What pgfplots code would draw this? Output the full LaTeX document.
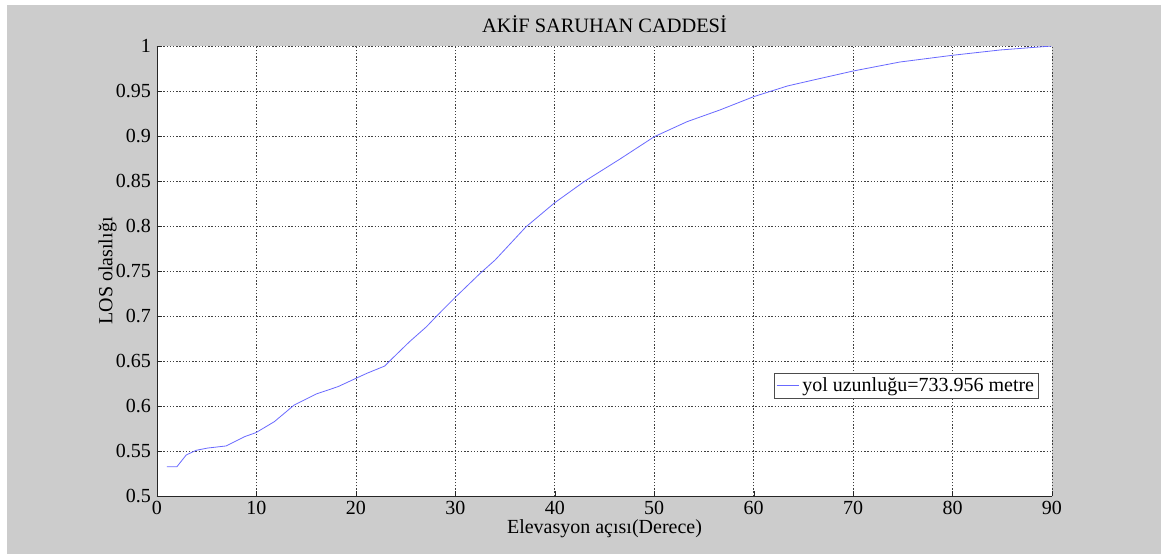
\documentclass[border=0pt]{standalone}
\usepackage{fontspec}
\setmainfont{Liberation Serif}
\usepackage{pgfplots}
\pgfplotsset{compat=1.18}
\definecolor{figbg}{RGB}{204,204,204}
\definecolor{curve}{RGB}{105,105,255}
\begin{document}
\begin{tikzpicture}
\path[use as bounding box] (-117.75pt,-43.5pt) rectangle (753pt,372pt);
\fill[white] (-117.75pt,-43.5pt) rectangle (753pt,372pt);
\fill[figbg] (-112.5pt,-43.5pt) rectangle (753pt,368.25pt);
\begin{axis}[
  at={(0,0)}, anchor=south west,
  width=671.25pt, height=337.5pt, scale only axis,
  xmin=0, xmax=90, ymin=0.5, ymax=1,
  xtick={0,10,20,30,40,50,60,70,80,90},
  ytick={0.5,0.55,0.6,0.65,0.7,0.75,0.8,0.85,0.9,0.95,1},
  yticklabels={0.5,0.55,0.6,0.65,0.7,0.75,0.8,0.85,0.9,0.95,1},
  axis background/.style={fill=white},
  axis lines*=left,
  axis line style={-, black!85},
  tick align=inside,
  major tick length=4pt,
  tick style={black!85},
  grid=major,
  major grid style={black!75, line width=0.5pt, dash pattern=on 1pt off 1.4pt},
  font=\fontsize{15}{17}\selectfont,
  tick label style={font=\fontsize{15}{17}\selectfont},
  /pgf/number format/assume math mode=true,
  xticklabel style={yshift=-0.5pt},
  yticklabel style={xshift=-1pt},
  title={AK\.IF SARUHAN CADDES\.I},
  title style={at={(axis description cs:0.5,1)}, anchor=center, yshift=10.5pt, font=\fontsize{15.3}{17}\selectfont},
  xlabel={Elevasyon açısı(Derece)},
  xlabel style={at={(axis description cs:0.5,0)}, anchor=center, yshift=-24.5pt, font=\fontsize{15}{17}\selectfont},
  ylabel={LOS olasılığı},
  ylabel style={at={([xshift=-37pt]axis description cs:0,0.5)}, rotate=0, anchor=center, font=\fontsize{15}{17}\selectfont},
  legend style={at={(axis description cs:0.9855,0.2733)}, anchor=north east, draw=black!70, fill=white,
    font=\fontsize{15}{17}\selectfont, inner sep=1.5pt, row sep=0pt},
  legend cell align=left,
  legend image code/.code={\draw[#1] (0pt,0pt) -- (17pt,0pt);},
]
\addplot[color=curve, line width=0.6pt] coordinates {
(1.0,0.5325) (2.0,0.5325) (2.94,0.5456) (3.95,0.5508) (5.1,0.5533) (6.95,0.5556)
(8.8,0.5659) (9.95,0.5704) (11.8,0.5826) (13.8,0.6011) (16.0,0.6133) (18.2,0.6215)
(20.0,0.6307) (21.1,0.6363) (22.9,0.6444) (23.4,0.6500) (25.4,0.6715) (27.1,0.6881)
(28.1,0.6997) (30.0,0.7208) (32.5,0.7474) (34.0,0.7622) (35.5,0.7800) (37.1,0.7990) (40.0,0.8259)
(43.0,0.8497) (46.5,0.8740) (50.0,0.8992) (53.3,0.9159) (56.6,0.9289) (60.0,0.9437)
(63.4,0.9556) (66.0,0.9622) (70.0,0.9722) (74.7,0.9822) (80.0,0.9897) (84.8,0.9956)
(90.0,1.0)
};
\addlegendentry{yol uzunluğu=733.956 metre}
\end{axis}
\end{tikzpicture}
\end{document}
